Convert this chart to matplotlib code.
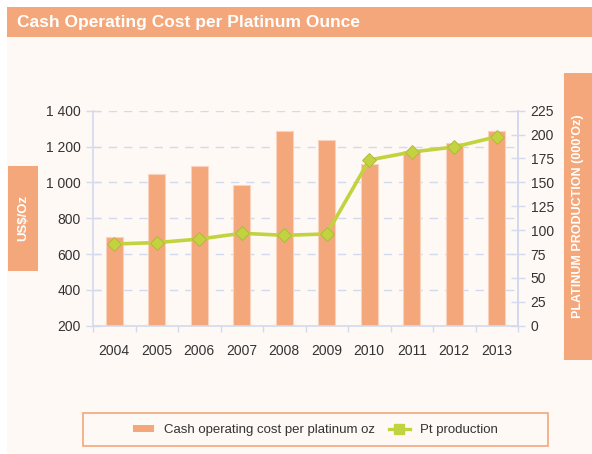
import matplotlib
matplotlib.use('Agg')
from matplotlib import pyplot as plt
from matplotlib.patches import Rectangle, Patch
from matplotlib.lines import Line2D

years = ['2004', '2005', '2006', '2007', '2008', '2009', '2010', '2011', '2012', '2013']
cash_cost = [693, 1046, 1091, 987, 1285, 1236, 1104, 1175, 1221, 1286]
pt_production = [85.5, 87, 90.7, 96.7, 94.6, 96, 173.4, 181.8, 187, 197.8]
left_ticks = [200, 400, 600, 800, 1000, 1200, 1400]
left_labels = ['200', '400', '600', '800', '1 000', '1 200', '1 400']
right_ticks = [0, 25, 50, 75, 100, 125, 150, 175, 200, 225]

orange = '#F4A77A'
green = '#C3D23F'
cream = '#FFF9F6'
axcol = '#D3DAEE'
txt = '#333333'
plt.rcParams['font.family'] = ['Liberation Sans', 'DejaVu Sans']

W, H = 592, 454
fig = plt.figure(figsize=(W / 100, H / 100), dpi=100, facecolor='white')


def box(x0, y0, x1, y1, **kw):
    # pixel coords, y from top
    fig.patches.append(Rectangle((x0 / W, 1 - y1 / H), (x1 - x0) / W, (y1 - y0) / H,
                                 transform=fig.transFigure, figure=fig, **kw))


box(7, 37, 592, 454, facecolor=cream, edgecolor='none', zorder=-3)
box(7, 7, 592, 37, facecolor=orange, edgecolor='none', zorder=-2)
fig.text(17 / W, 1 - 22 / H, 'Cash Operating Cost per Platinum Ounce', color='white',
         fontsize=12.5, fontweight='bold', va='center', ha='left')

box(8, 166, 37.5, 271, facecolor=orange, edgecolor='none', zorder=-2)
fig.text(23 / W, 1 - 218 / H, 'US$/Oz', color='white', rotation=90, fontsize=9.5,
         fontweight='bold', ha='center', va='center')
box(564, 73, 592, 360, facecolor=orange, edgecolor='none', zorder=-2)
fig.text(578 / W, 1 - 216 / H, "PLATINUM PRODUCTION (000'Oz)", color='white', rotation=90,
         fontsize=9, fontweight='bold', ha='center', va='center')

box(83, 413, 548, 446, facecolor=cream, edgecolor=orange, linewidth=1.2, zorder=-2)

ax = fig.add_axes([93 / W, 1 - 325.7 / H, (518 - 93) / W, (325.7 - 110.7) / H])
ax.set_facecolor('none')
x = list(range(len(years)))
ax.bar(x, cash_cost, width=0.39, color=orange, edgecolor='#FBD3BC', linewidth=0.8, zorder=2)
ax.set_xlim(-0.5, 9.5)
ax.set_ylim(200, 1400)
ax.set_yticks(left_ticks)
ax.set_yticklabels(left_labels)
ax.set_xticks(x)
ax.set_xticklabels(years)
ax.set_xticks([i + 0.5 for i in range(-1, 10)], minor=True)
ax.tick_params(axis='x', which='major', length=0, pad=13, labelsize=10, labelcolor=txt)
ax.tick_params(axis='x', which='minor', length=4, width=1, color=axcol, direction='out')
ax.tick_params(axis='y', length=10, width=1, color=axcol, direction='inout', labelsize=10,
               labelcolor=txt, pad=4)
ax.grid(axis='y', color=axcol, linestyle=(0, (6, 5)), linewidth=1, zorder=1)
ax.spines['top'].set_visible(False)
for s in ['left', 'right', 'bottom']:
    ax.spines[s].set_color(axcol)
    ax.spines[s].set_linewidth(1.2)

ax2 = ax.twinx()
ax2.plot(x, pt_production, color=green, linewidth=2.6, marker='D', markersize=7,
         markerfacecolor=green, markeredgecolor='#A9B83A', markeredgewidth=0.6, zorder=3)
ax2.set_ylim(0, 225)
ax2.set_yticks(right_ticks)
ax2.tick_params(axis='y', length=10, width=1, color=axcol, direction='inout', labelsize=10,
                labelcolor=txt, pad=4)
for s in ['top', 'left', 'bottom']:
    ax2.spines[s].set_visible(False)
ax2.spines['right'].set_color(axcol)
ax2.spines['right'].set_linewidth(1.2)

handles = [Patch(facecolor=orange, edgecolor='none'),
           Line2D([0], [0], color=green, linewidth=2.4, marker='s', markersize=7)]
fig.legend(handles, ['Cash operating cost per platinum oz', 'Pt production'],
           loc='center', bbox_to_anchor=(315.5 / W, 1 - 430 / H), ncol=2, frameon=False,
           fontsize=9.5, labelcolor=txt, handlelength=1.6, handleheight=0.5,
           columnspacing=1.0, handletextpad=0.8)

fig.savefig('out.png', dpi=100, facecolor='white')
